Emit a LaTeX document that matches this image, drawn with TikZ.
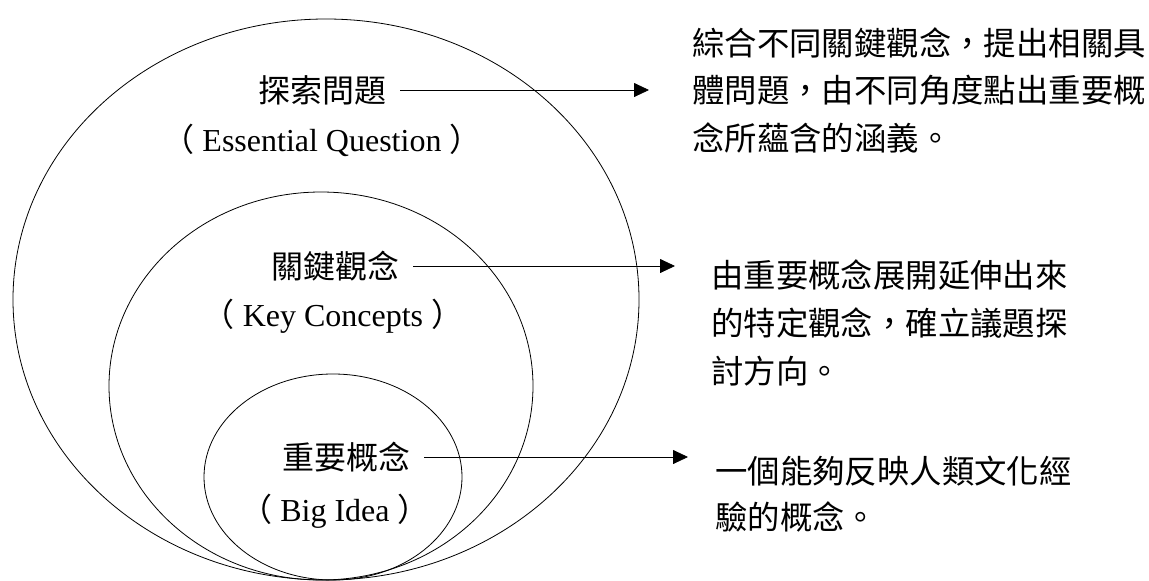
\documentclass[tikz,border=0pt]{standalone}
\usepackage{fontspec}
\setmainfont{Liberation Serif}
\newfontfamily\cjk{Noto Sans CJK TC}
\usetikzlibrary{arrows.meta}
\tikzset{
  ring/.style={draw,line width=0.8pt},
  term/.style={font=\cjk\fontsize{32}{32}\selectfont,inner xsep=14pt,inner ysep=0pt},
  eng/.style={font=\fontsize{32}{32}\selectfont,inner sep=0pt},
  note/.style={font=\cjk\fontsize{32.4}{48}\selectfont,align=left,anchor=base west,inner sep=0pt},
  link/.style={line width=0.8pt,-{Triangle[length=15pt,width=14pt]}}
}
\newcommand{\lpar}{{\cjk （}}
\newcommand{\rpar}{{\cjk ）}}
\begin{document}
\begin{tikzpicture}[x=1pt,y=-1pt]
\useasboundingbox (0,0) rectangle (1149,581);
% three nested rings, touching at the bottom
\draw[ring] (326,299.5) ellipse [x radius=313,y radius=280.5];
\draw[ring] (321,386) ellipse [x radius=212,y radius=194];
\draw[ring] (333,477) ellipse [x radius=129,y radius=103];
% labels inside the rings
\node[term] (q) at (322,90) {探索問題};
\node[eng] (qe) at (322,140) {\lpar\ Essential Question\ \rpar};
\node[term] (k) at (335,266) {關鍵觀念};
\node[eng] (ke) at (333,316) {\lpar\ Key Concepts\ \rpar};
\node[term] (b) at (346,457) {重要概念};
\node[eng] (be) at (335,511) {\lpar\ Big Idea\ \rpar};
% notes on the right (base = last line)
\node[note,font=\cjk\fontsize{32.4}{47.5}\selectfont] (qn) at (692,150) {綜合不同關鍵觀念，提出相關具\\體問題，由不同角度點出重要概\\念所蘊含的涵義。};
\node[note] (kn) at (711,383) {由重要概念展開延伸出來\\的特定觀念，確立議題探\\討方向。};
\node[note,font=\cjk\fontsize{32.4}{46}\selectfont] (bn) at (715,529) {一個能夠反映人類文化經\\驗的概念。};
\coordinate (qt) at (649,90);
\coordinate (kt) at (675,266);
\coordinate (bt) at (688,457);
\draw[link] (q.east) -- (qt);
\draw[link] (k.east) -- (kt);
\draw[link] (b.east) -- (bt);
\end{tikzpicture}
\end{document}
